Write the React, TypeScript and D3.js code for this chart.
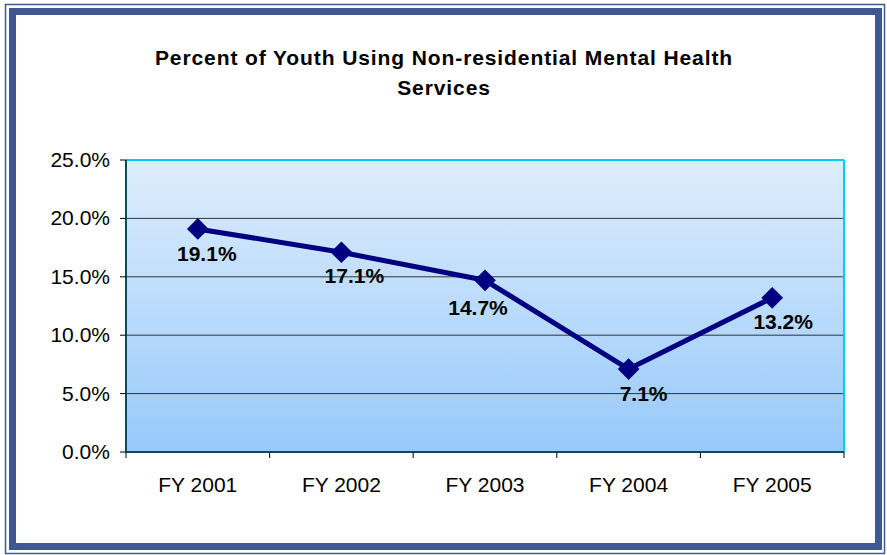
import React from "react";
import * as d3 from "d3";

const years = ["FY 2001", "FY 2002", "FY 2003", "FY 2004", "FY 2005"];
const percents = [19.1, 17.1, 14.7, 7.1, 13.2];
const yTicks = [0, 5, 10, 15, 20, 25];
// label offsets relative to the marker (dx, dy to baseline)
const labelDx = [9, 13, -7, 15, 11];
const labelDy = [32, 31, 35, 32, 31];
const titleLines = ["Percent of Youth Using Non-residential Mental Health", "Services"];

export default function App() {
  const W = 887;
  const H = 555;
  const plot = { left: 126, right: 844, top: 160, bottom: 452 };

  const x = d3.scaleBand().domain(years).range([plot.left, plot.right]);
  const y = d3.scaleLinear().domain([0, 25]).range([plot.bottom, plot.top]);
  const cx = (d: string) => (x(d) as number) + x.bandwidth() / 2;

  const line = d3
    .line<number>()
    .x((d, i) => cx(years[i]))
    .y((d) => y(d));

  const diamond = d3.symbol().type(d3.symbolDiamond2).size(300)();

  return (
    <svg
      width={W}
      height={H}
      style={{ position: "absolute", left: 0, top: 0, fontFamily: "'Liberation Sans', Arial, sans-serif" }}
    >
      <defs>
        <linearGradient id="bg" x1="0" y1="0" x2="0" y2="1">
          <stop offset="0%" stopColor="#dfedfd" />
          <stop offset="100%" stopColor="#97c9fa" />
        </linearGradient>
      </defs>
      <rect x={0} y={0} width={W} height={H} fill="#fff" />
      {/* frame */}
      <rect x={5.5} y={4.5} width={879} height={549} fill="none" stroke="#3f5890" strokeWidth={1.5} />
      <rect x={12.5} y={11.5} width={866} height={535} fill="none" stroke="#3f5890" strokeWidth={7} />

      {/* title */}
      {titleLines.map((t, i) => (
        <text
          key={i}
          x={444}
          y={65 + i * 30}
          textAnchor="middle"
          fontSize={21}
          letterSpacing={0.9}
          fontWeight="bold"
          fill="#000"
        >
          {t}
        </text>
      ))}

      {/* plot area */}
      <rect
        x={plot.left}
        y={plot.top}
        width={plot.right - plot.left}
        height={plot.bottom - plot.top}
        fill="url(#bg)"
      />
      {yTicks.slice(1, -1).map((t) => (
        <line key={t} x1={plot.left} x2={plot.right} y1={y(t)} y2={y(t)} stroke="#333" strokeWidth={1} />
      ))}
      <line x1={plot.left} x2={plot.right} y1={plot.top} y2={plot.top} stroke="#00ccff" strokeWidth={2} />
      <line x1={plot.right} x2={plot.right} y1={plot.top} y2={plot.bottom} stroke="#00ccff" strokeWidth={2} />
      <line x1={plot.left} x2={plot.left} y1={plot.top} y2={plot.bottom} stroke="#0e4a5c" strokeWidth={2} />
      <line x1={plot.left} x2={plot.right} y1={plot.bottom} y2={plot.bottom} stroke="#0e4a5c" strokeWidth={2} />

      {/* y axis */}
      {yTicks.map((t) => (
        <g key={t}>
          <line x1={plot.left - 6} x2={plot.left} y1={y(t)} y2={y(t)} stroke="#000" />
          <text x={110} y={y(t) + 7} textAnchor="end" fontSize={21} fill="#000">
            {t.toFixed(1)}%
          </text>
        </g>
      ))}

      {/* x axis */}
      {years.map((d) => (
        <g key={d}>
          <line
            x1={(x(d) as number) + x.bandwidth()}
            x2={(x(d) as number) + x.bandwidth()}
            y1={plot.bottom}
            y2={plot.bottom + 6}
            stroke="#000"
          />
          <text x={cx(d)} y={492} textAnchor="middle" fontSize={21} fill="#000">
            {d}
          </text>
        </g>
      ))}
      <line x1={plot.left} x2={plot.left} y1={plot.bottom} y2={plot.bottom + 6} stroke="#000" />

      {/* series */}
      <path d={line(percents) as string} fill="none" stroke="#000080" strokeWidth={5} strokeLinejoin="round" />
      {percents.map((v, i) => (
        <path key={i} d={diamond as string} transform={`translate(${cx(years[i])},${y(v)})`} fill="#000080" />
      ))}
      {percents.map((v, i) => (
        <text
          key={i}
          x={cx(years[i]) + labelDx[i]}
          y={y(v) + labelDy[i]}
          textAnchor="middle"
          fontSize={21}
          fontWeight="bold"
          fill="#000"
        >
          {v.toFixed(1)}%
        </text>
      ))}
    </svg>
  );
}
